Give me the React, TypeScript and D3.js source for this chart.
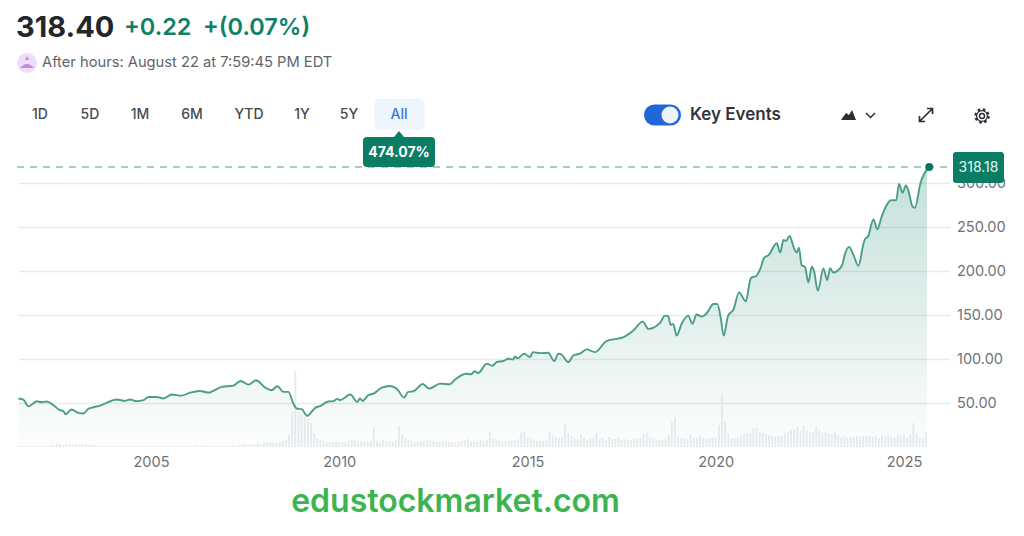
import React, { useEffect, useRef } from "react";
import * as d3 from "d3";

const WIDTH = 1024;
const HEIGHT = 536;
const FONT = "Inter, 'Noto Sans', sans-serif";
const GREEN = "#0a7d64";
const BOUNDS = { left: 19, right: 950, top: 183, bottom: 447 };

// decimal year of each price reading
const priceYears = [
  2001.48, 2001.61, 2001.74, 2001.87, 2001.96, 2002.1, 2002.23, 2002.41, 2002.58, 2002.67, 2002.73, 2002.89,
  2003.07, 2003.2, 2003.34, 2003.47, 2003.65, 2003.78, 2004.09, 2004.31, 2004.44, 2004.62, 2004.8, 2004.93,
  2005.15, 2005.33, 2005.55, 2005.81, 2006.04, 2006.3, 2006.52, 2006.88, 2007.19, 2007.38, 2007.59, 2007.79,
  2008.03, 2008.2, 2008.36, 2008.51, 2008.65, 2008.78, 2008.87, 2009.0, 2009.15, 2009.36, 2009.49, 2009.71,
  2009.84, 2009.95, 2010.02, 2010.29, 2010.48, 2010.55, 2010.62, 2010.77, 2010.91, 2011.13, 2011.35, 2011.54,
  2011.72, 2011.83, 2011.97, 2012.22, 2012.39, 2012.68, 2012.94, 2013.07, 2013.38, 2013.5, 2013.59, 2013.69,
  2013.92, 2014.07, 2014.18, 2014.36, 2014.49, 2014.62, 2014.67, 2014.73, 2014.91, 2015.07, 2015.14, 2015.33,
  2015.55, 2015.71, 2015.82, 2015.91, 2016.08, 2016.22, 2016.39, 2016.57, 2016.79, 2017.1, 2017.55, 2017.81,
  2018.06, 2018.21, 2018.52, 2018.65, 2018.74, 2018.8, 2018.87, 2018.96, 2019.1, 2019.27, 2019.38, 2019.49,
  2019.63, 2019.76, 2019.94, 2020.04, 2020.13, 2020.21, 2020.33, 2020.47, 2020.62, 2020.8, 2020.91, 2020.95,
  2021.06, 2021.18, 2021.29, 2021.4, 2021.62, 2021.71, 2021.8, 2021.87, 2021.96, 2022.09, 2022.15, 2022.21,
  2022.28, 2022.37, 2022.46, 2022.55, 2022.61, 2022.71, 2022.86, 2022.96, 2023.04, 2023.12, 2023.35, 2023.43,
  2023.54, 2023.65, 2023.79, 2023.92, 2023.96, 2024.05, 2024.19, 2024.29, 2024.41, 2024.67, 2024.79, 2024.87,
  2024.96, 2025.05, 2025.12, 2025.22, 2025.29, 2025.44, 2025.67,
];

const prices = [
  55.1, 53.9, 46.4, 49.4, 52, 50.9, 51.7, 47.5, 41.9, 41.1, 37.3, 42.6,
  38.8, 38.1, 43.4, 45.2, 47.1, 49.4, 53.9, 52.4, 53.9, 52, 53.2, 56.9,
  56.9, 55.1, 59.6, 58.4, 61.8, 63.7, 61.8, 68.3, 69.8, 75, 70.9, 75.8,
  67.5, 64.5, 69, 62.6, 62.6, 49.4, 43.7, 43, 35.4, 44.5, 46.4, 51.7,
  52, 54.7, 53.2, 59.6, 51.3, 55.1, 52.4, 58.8, 60.7, 67.5, 69.4, 65.6,
  56.2, 62.6, 63.3, 71.6, 66.4, 72, 71.3, 76.5, 83.3, 82.6, 86, 84.1,
  94.6, 92.4, 96.5, 97.7, 100.3, 99.5, 102.9, 100.7, 106, 102.2, 107.8, 106.7,
  107.1, 97.7, 106, 104.8, 96.5, 104.1, 106, 110.9, 107.8, 120.3, 124.8, 132.4,
  142.5, 134.2, 141, 149.3, 148.6, 138.8, 139.9, 126.7, 140.6, 149.3, 139.9, 150.5,
  148.2, 152, 162.5, 162.5, 147.4, 126.7, 149.3, 156.1, 175.7, 165.5, 188.9, 192.7,
  193.8, 202.1, 215.3, 217.9, 231.5, 221, 235.3, 234.2, 239.8, 224.7, 221, 226.6,
  206.6, 204.8, 187, 204.8, 200.2, 177.6, 202.9, 189.7, 203.2, 198.3, 205.9, 219.1,
  227.4, 219.1, 205.9, 230.4, 236, 239.8, 258.7, 247.4, 262.4, 280.5, 280.2, 299,
  288.8, 297.1, 290.7, 273.8, 271.9, 300.2, 318.18,
];

// monthly volume, relative units, first bar is mid 2001
const VOLUME_START = 2001.5;
const volumes = [
  1, 1, 1, 1, 1, 1,
  1, 1, 1, 1, 2, 2, 3, 3, 2, 2, 3, 2,
  3, 2, 3, 2, 2, 2, 2, 1, 1, 1, 1, 1,
  1, 1, 1, 1, 1, 1, 1, 1, 1, 1, 1, 1,
  1, 1, 1, 1, 1, 1, 1, 1, 1, 1, 1, 1,
  1, 1, 2, 1, 1, 2, 1, 1, 1, 1, 1, 1,
  1, 1, 2, 1, 1, 2, 3, 2, 3, 2, 4, 3,
  5, 4, 5, 4, 4, 5, 6, 7, 12, 35, 76, 35,
  33, 30, 28, 24, 14, 9, 7, 6, 5, 5, 5, 6,
  5, 5, 5, 6, 8, 7, 6, 6, 6, 5, 6, 20,
  6, 5, 7, 6, 5, 6, 7, 21, 12, 9, 7, 6,
  5, 5, 6, 6, 7, 7, 6, 5, 5, 6, 6, 5,
  5, 4, 5, 6, 7, 8, 6, 5, 5, 7, 6, 7,
  15, 8, 8, 7, 6, 6, 6, 7, 7, 8, 15, 15,
  9, 8, 7, 6, 6, 6, 7, 16, 12, 10, 9, 10,
  22, 14, 11, 9, 8, 12, 9, 7, 8, 9, 14, 8,
  9, 7, 10, 8, 8, 9, 7, 8, 7, 7, 9, 8,
  10, 13, 14, 10, 9, 8, 7, 7, 8, 12, 25, 30,
  10, 9, 9, 8, 12, 9, 9, 12, 9, 8, 9, 10,
  10, 22, 53, 25, 13, 9, 9, 10, 12, 13, 14, 14,
  19, 20, 15, 14, 13, 12, 11, 11, 12, 11, 14, 15,
  17, 18, 20, 16, 21, 17, 14, 15, 20, 17, 14, 15,
  14, 13, 16, 12, 10, 11, 9, 10, 10, 11, 10, 11,
  11, 12, 10, 11, 9, 11, 10, 12, 10, 10, 13, 11,
  12, 10, 13, 24, 14, 10, 9, 15,
];

const yearTicks = [2005, 2010, 2015, 2020, 2025];
const priceTicks = [50, 100, 150, 200, 250, 300];
const ranges = ["1D", "5D", "1M", "6M", "YTD", "1Y", "5Y", "All"];
const rangeCenters = [40, 90, 140, 192, 249, 302, 349, 399];

const LAST_PRICE = prices[prices.length - 1];

const x = d3.scaleLinear().domain([2005, 2025]).range([151, 904]);
const y = d3.scaleLinear().domain([0, 300]).range([BOUNDS.bottom, BOUNDS.top]);
const yVolume = d3.scaleLinear().domain([0, 76]).range([BOUNDS.bottom, 371]);

const points = priceYears.map((year, i) => ({ year, price: prices[i] }));

const linePath = d3
  .line<{ year: number; price: number }>()
  .x((d) => x(d.year))
  .y((d) => y(d.price))
  .curve(d3.curveMonotoneX)(points) as string;

const areaPath = d3
  .area<{ year: number; price: number }>()
  .x((d) => x(d.year))
  .y0(BOUNDS.bottom)
  .y1((d) => y(d.price))
  .curve(d3.curveMonotoneX)(points) as string;

export default function App() {
  const xAxisRef = useRef<SVGGElement>(null);
  const yAxisRef = useRef<SVGGElement>(null);

  useEffect(() => {
    // year labels
    const xAxis = d3
      .select(xAxisRef.current)
      .call(d3.axisBottom(x).tickValues(yearTicks).tickFormat(d3.format("d")).tickSize(0) as any);
    xAxis.select(".domain").remove();
    xAxis
      .selectAll("text")
      .attr("font-family", FONT)
      .attr("font-size", 14.5)
      .attr("fill", "#6d7378");

    // price gridlines and labels
    const yAxis = d3
      .select(yAxisRef.current)
      .call(
        d3
          .axisRight(y)
          .tickValues(priceTicks)
          .tickFormat(d3.format(".2f"))
          .tickSize(-(BOUNDS.right - BOUNDS.left))
          .tickPadding(7) as any
      );
    yAxis.select(".domain").remove();
    yAxis.selectAll("line").attr("stroke", "#e8ebea").attr("stroke-width", 1.5);
    yAxis
      .selectAll("text")
      .attr("font-family", FONT)
      .attr("font-size", 14.5)
      .attr("fill", "#6d7378");
  }, []);

  return (
    <svg
      width={WIDTH}
      height={HEIGHT}
      style={{ position: "absolute", left: 0, top: 0, background: "#fff" }}
      fontFamily={FONT}
    >
      <defs>
        <linearGradient id="areaFill" gradientUnits="userSpaceOnUse" x1="0" x2="0" y1={y(LAST_PRICE)} y2={BOUNDS.bottom}>
          <stop offset="0" stopColor={GREEN} stopOpacity={0.24} />
          <stop offset="1" stopColor={GREEN} stopOpacity={0.01} />
        </linearGradient>
        <clipPath id="areaClip">
          <rect x={BOUNDS.left} y={0} width={908} height={HEIGHT} />
        </clipPath>
      </defs>

      {/* header */}
      <text x={16} y={37} fontSize={29} fontWeight={700} fill="#22272c">318.40</text>
      <text x={124} y={35} fontSize={23.5} fontWeight={600} fill="#0f7f68">+0.22</text>
      <text x={203} y={35} fontSize={23.5} fontWeight={600} fill="#0f7f68">+(0.07%)</text>
      <circle cx={27} cy={63} r={10} fill="#eedcf8" />
      <path d="M20 68 Q27 60 34 68 Z M27 56 L29 60 L25 60 Z" fill="#b98fd6" />
      <text x={42} y={67} fontSize={14.7} fill="#5f656b">After hours: August 22 at 7:59:45 PM EDT</text>

      {/* range buttons */}
      <rect x={374.5} y={99} width={50} height={31} rx={5} fill="#eef5fd" />
      {ranges.map((label, i) => (
        <text
          key={label}
          x={rangeCenters[i]}
          y={119}
          textAnchor="middle"
          fontSize={14}
          fontWeight={500}
          fill={label === "All" ? "#3a78d8" : "#454b51"}
        >
          {label}
        </text>
      ))}

      {/* right controls */}
      <rect x={644} y={104.5} width={37} height={21} rx={10.5} fill="#1f66d8" />
      <circle cx={670} cy={115} r={8.5} fill="#eef3fb" />
      <text x={690} y={120} fontSize={17} fontWeight={600} fill="#30363c">Key Events</text>
      <path d="M841 120 L846 113 L849 115 L852 110 L856 120 Z" fill="#2b3036" />
      <path d="M866 113 L870.5 117.5 L875 113" fill="none" stroke="#2b3036" strokeWidth={1.5} />
      <path
        d="M920 121 L932 109 M927 108.5 L932.5 108.5 L932.5 114 M919.5 116 L919.5 121.5 L925 121.5"
        fill="none"
        stroke="#2b3036"
        strokeWidth={1.7}
      />
      <circle cx={982} cy={116} r={2.5} fill="none" stroke="#2b3036" strokeWidth={1.4} />
      <circle cx={982} cy={116} r={6.5} fill="none" stroke="#2b3036" strokeWidth={2.4} strokeDasharray="2.6 2.5" />
      <circle cx={982} cy={116} r={5.4} fill="none" stroke="#2b3036" strokeWidth={1.2} />

      {/* chart */}
      <g ref={yAxisRef} transform={`translate(${BOUNDS.right},0)`} />
      <path d={areaPath} fill="url(#areaFill)" clipPath="url(#areaClip)" />
      {volumes.map((v, i) => (
        <rect
          key={i}
          x={x(VOLUME_START + i / 12) - 0.9}
          y={yVolume(v)}
          width={1.8}
          height={BOUNDS.bottom - yVolume(v)}
          fill="#e5e8ed"
        />
      ))}
      <line
        x1={17}
        x2={953}
        y1={y(LAST_PRICE)}
        y2={y(LAST_PRICE)}
        stroke="#7fc0ad"
        strokeWidth={1.7}
        strokeDasharray="7 6"
      />
      <path d={linePath} fill="none" stroke="#4a9e88" strokeWidth={1.9} strokeLinejoin="round" />
      <circle cx={x(priceYears[priceYears.length - 1])} cy={y(LAST_PRICE)} r={4} fill="#0a7560" />
      <g ref={xAxisRef} transform={`translate(0,${BOUNDS.bottom + 7})`} />

      {/* return badge */}
      <path d="M394 137 L399 131 L404 137 Z" fill={GREEN} />
      <rect x={363} y={137} width={72} height={30} rx={4} fill={GREEN} />
      <text x={399} y={157} textAnchor="middle" fontSize={14} fontWeight={700} fill="#fff">474.07%</text>

      {/* last price badge */}
      <rect x={953} y={152} width={51} height={31} rx={3} fill={GREEN} />
      <text x={978.5} y={172} textAnchor="middle" fontSize={14} fill="#e6f4f0">{LAST_PRICE.toFixed(2)}</text>

      <text x={455.5} y={512} textAnchor="middle" fontSize={32} fontWeight={600} fill="#3cb44f">edustockmarket.com</text>
    </svg>
  );
}
